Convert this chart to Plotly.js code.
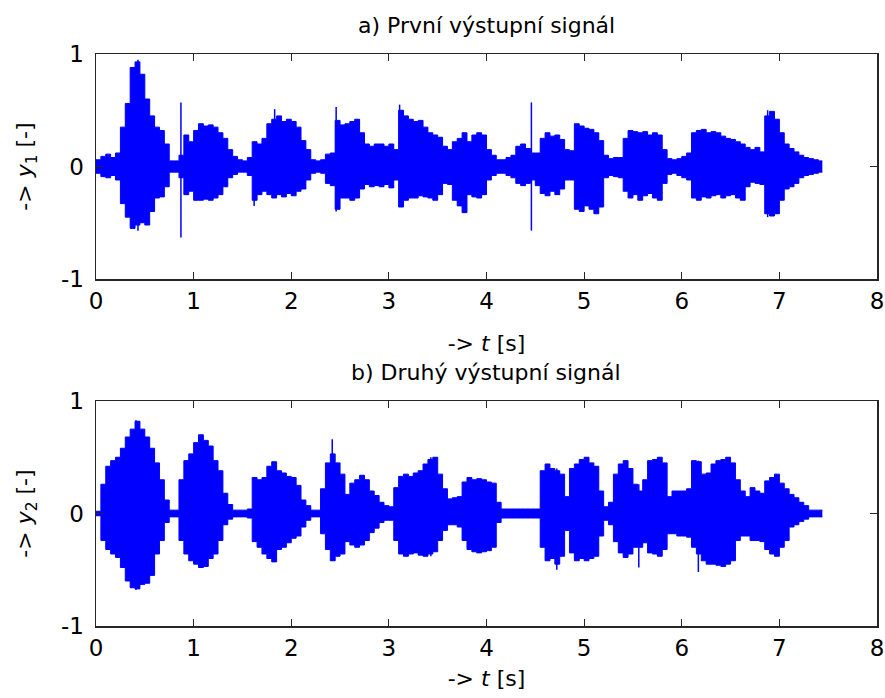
<!DOCTYPE html>
<html>
<head>
<meta charset="utf-8">
<script src="https://cdn.plot.ly/plotly-3.0.1.min.js"></script>
<style>html,body{margin:0;padding:0;background:#fff;}#chart{width:885px;height:698px;}</style>
</head>
<body>
<div id="chart"></div>
<script>
// Envelope of the signals, 0.05 s bins (bin start times)
const tBins = [
0.00,0.05,0.10,0.15,0.20,0.25,0.30,0.35,0.40,0.45,
0.50,0.55,0.60,0.65,0.70,0.75,0.80,0.85,0.90,0.95,
1.00,1.05,1.10,1.15,1.20,1.25,1.30,1.35,1.40,1.45,
1.50,1.55,1.60,1.65,1.70,1.75,1.80,1.85,1.90,1.95,
2.00,2.05,2.10,2.15,2.20,2.25,2.30,2.35,2.40,2.45,
2.50,2.55,2.60,2.65,2.70,2.75,2.80,2.85,2.90,2.95,
3.00,3.05,3.10,3.15,3.20,3.25,3.30,3.35,3.40,3.45,
3.50,3.55,3.60,3.65,3.70,3.75,3.80,3.85,3.90,3.95,
4.00,4.05,4.10,4.15,4.20,4.25,4.30,4.35,4.40,4.45,
4.50,4.55,4.60,4.65,4.70,4.75,4.80,4.85,4.90,4.95,
5.00,5.05,5.10,5.15,5.20,5.25,5.30,5.35,5.40,5.45,
5.50,5.55,5.60,5.65,5.70,5.75,5.80,5.85,5.90,5.95,
6.00,6.05,6.10,6.15,6.20,6.25,6.30,6.35,6.40,6.45,
6.50,6.55,6.60,6.65,6.70,6.75,6.80,6.85,6.90,6.95,
7.00,7.05,7.10,7.15,7.20,7.25,7.30,7.35,7.40,7.44
];

// a) first output signal y1: upper / lower envelope
const y1Upper = [
0.06,0.09,0.11,0.08,0.12,0.35,0.56,0.88,0.93,0.82,
0.60,0.45,0.35,0.32,0.20,0.05,0.05,0.10,0.28,0.22,
0.32,0.38,0.36,0.37,0.35,0.30,0.25,0.15,0.09,0.06,
0.05,0.08,0.22,0.20,0.25,0.38,0.42,0.45,0.40,0.42,
0.40,0.35,0.23,0.15,0.06,0.05,0.06,0.11,0.12,0.41,
0.37,0.38,0.40,0.42,0.30,0.20,0.18,0.20,0.20,0.18,
0.20,0.15,0.50,0.45,0.42,0.40,0.41,0.35,0.30,0.28,
0.26,0.18,0.15,0.22,0.25,0.30,0.22,0.28,0.30,0.28,
0.15,0.10,0.06,0.06,0.08,0.10,0.18,0.20,0.16,0.12,
0.12,0.25,0.30,0.27,0.28,0.24,0.15,0.14,0.38,0.36,
0.34,0.33,0.30,0.23,0.10,0.07,0.08,0.08,0.25,0.32,
0.31,0.30,0.31,0.28,0.30,0.28,0.15,0.07,0.06,0.07,
0.09,0.12,0.30,0.32,0.33,0.30,0.31,0.30,0.27,0.25,
0.24,0.22,0.20,0.17,0.15,0.17,0.13,0.45,0.49,0.42,
0.30,0.20,0.16,0.13,0.10,0.08,0.07,0.06,0.05,0.05
];
const y1Lower = [
-0.06,-0.09,-0.10,-0.08,-0.12,-0.33,-0.45,-0.55,-0.52,-0.50,
-0.52,-0.40,-0.28,-0.27,-0.18,-0.05,-0.05,-0.10,-0.25,-0.22,
-0.30,-0.30,-0.29,-0.30,-0.28,-0.25,-0.18,-0.10,-0.07,-0.05,
-0.05,-0.08,-0.30,-0.25,-0.22,-0.25,-0.28,-0.25,-0.27,-0.24,
-0.26,-0.22,-0.20,-0.12,-0.06,-0.05,-0.06,-0.15,-0.17,-0.38,
-0.28,-0.28,-0.30,-0.28,-0.20,-0.16,-0.18,-0.17,-0.18,-0.16,
-0.19,-0.12,-0.36,-0.30,-0.28,-0.28,-0.26,-0.27,-0.28,-0.30,
-0.25,-0.15,-0.16,-0.30,-0.35,-0.41,-0.25,-0.27,-0.28,-0.25,
-0.12,-0.08,-0.06,-0.06,-0.08,-0.10,-0.15,-0.17,-0.15,-0.12,
-0.17,-0.24,-0.26,-0.22,-0.25,-0.20,-0.12,-0.12,-0.38,-0.40,
-0.35,-0.38,-0.42,-0.36,-0.10,-0.08,-0.09,-0.10,-0.22,-0.28,
-0.25,-0.30,-0.26,-0.24,-0.28,-0.30,-0.15,-0.07,-0.06,-0.08,
-0.10,-0.12,-0.28,-0.30,-0.27,-0.28,-0.26,-0.25,-0.28,-0.26,
-0.25,-0.28,-0.30,-0.18,-0.14,-0.15,-0.16,-0.42,-0.44,-0.42,
-0.30,-0.20,-0.18,-0.15,-0.10,-0.08,-0.07,-0.06,-0.05,-0.05
];
// isolated transients in y1
const y1SpikeT  = [0.43, 0.87, 1.62, 1.83, 2.46, 3.11, 4.46, 6.88];
const y1SpikeHi = [0.95, 0.57, 0.22, 0.51, 0.53, 0.55, 0.57, 0.50];
const y1SpikeLo = [-0.57, -0.63, -0.35, -0.28, -0.40, -0.36, -0.57, -0.45];

// b) second output signal y2: upper / lower envelope
const y2Upper = [
0.02,0.26,0.42,0.47,0.50,0.58,0.68,0.75,0.82,0.75,
0.68,0.58,0.45,0.30,0.12,0.03,0.03,0.30,0.47,0.53,
0.63,0.70,0.65,0.60,0.47,0.38,0.18,0.08,0.03,0.03,
0.03,0.04,0.32,0.30,0.32,0.42,0.46,0.38,0.36,0.33,
0.32,0.25,0.12,0.07,0.03,0.03,0.22,0.45,0.53,0.45,
0.35,0.17,0.27,0.30,0.34,0.30,0.20,0.16,0.10,0.07,
0.06,0.23,0.33,0.35,0.33,0.36,0.38,0.44,0.48,0.50,
0.35,0.22,0.13,0.14,0.15,0.28,0.32,0.30,0.31,0.30,
0.28,0.27,0.10,0.04,0.04,0.04,0.04,0.04,0.04,0.04,
0.04,0.38,0.44,0.40,0.38,0.35,0.15,0.40,0.44,0.48,
0.50,0.45,0.42,0.20,0.06,0.10,0.35,0.44,0.47,0.40,
0.26,0.20,0.30,0.47,0.48,0.50,0.45,0.15,0.20,0.20,
0.20,0.22,0.47,0.46,0.35,0.36,0.44,0.47,0.48,0.50,
0.45,0.30,0.20,0.15,0.23,0.20,0.18,0.29,0.32,0.35,
0.27,0.22,0.17,0.14,0.10,0.07,0.03,0.03,0.03,0.03
];
const y2Lower = [
-0.02,-0.24,-0.32,-0.36,-0.39,-0.48,-0.60,-0.66,-0.67,-0.63,
-0.62,-0.55,-0.36,-0.24,-0.08,-0.03,-0.03,-0.24,-0.36,-0.42,
-0.45,-0.48,-0.47,-0.40,-0.36,-0.24,-0.10,-0.05,-0.03,-0.03,
-0.03,-0.04,-0.25,-0.30,-0.36,-0.40,-0.43,-0.32,-0.30,-0.26,
-0.22,-0.20,-0.12,-0.06,-0.03,-0.03,-0.18,-0.32,-0.42,-0.38,
-0.36,-0.25,-0.28,-0.30,-0.28,-0.24,-0.17,-0.13,-0.08,-0.06,
-0.06,-0.24,-0.36,-0.38,-0.36,-0.35,-0.37,-0.38,-0.36,-0.34,
-0.24,-0.15,-0.10,-0.10,-0.12,-0.24,-0.32,-0.34,-0.35,-0.34,
-0.33,-0.30,-0.08,-0.04,-0.04,-0.04,-0.04,-0.04,-0.04,-0.04,
-0.04,-0.30,-0.42,-0.40,-0.45,-0.38,-0.15,-0.35,-0.42,-0.40,
-0.42,-0.40,-0.38,-0.20,-0.06,-0.10,-0.25,-0.35,-0.39,-0.36,
-0.30,-0.30,-0.26,-0.35,-0.36,-0.38,-0.32,-0.18,-0.18,-0.20,
-0.20,-0.21,-0.30,-0.36,-0.42,-0.45,-0.45,-0.46,-0.47,-0.45,
-0.42,-0.24,-0.20,-0.20,-0.24,-0.24,-0.25,-0.32,-0.36,-0.38,
-0.30,-0.24,-0.12,-0.10,-0.07,-0.05,-0.03,-0.03,-0.03,-0.03
];
const y2SpikeT  = [0.41, 2.42, 3.43, 4.72, 5.56, 6.17];
const y2SpikeHi = [0.83, 0.66, 0.50, 0.40, 0.26, 0.47];
const y2SpikeLo = [-0.68, -0.42, -0.38, -0.50, -0.48, -0.52];

const xTicks = [0,1,2,3,4,5,6,7,8];
const xTickText = ['0','1','2','3','4','5','6','7','8'];
const yTicks = [-1,0,1];
const yTickText = ['-1','0','1'];
const titleA = 'a) První výstupní signál';
const titleB = 'b) Druhý výstupní signál';
const xLabel = '-> <i>t</i> [s]';
const yLabel1 = '-> <i>y</i><sub>1</sub> [-]';
const yLabel2 = '-> <i>y</i><sub>2</sub> [-]';

const BLUE = '#0000ff';
function spikes(ts, hi, lo) {
  const x = [], y = [];
  for (let i = 0; i < ts.length; i++) { x.push(ts[i], ts[i], null); y.push(lo[i], hi[i], null); }
  return {x, y};
}
function signalTraces(up, lo, sp, xa, ya) {
  return [
    {x: tBins, y: up, type: 'scatter', mode: 'lines', line: {color: BLUE, width: 1, shape: 'hv'}, xaxis: xa, yaxis: ya, hoverinfo: 'skip'},
    {x: tBins, y: lo, type: 'scatter', mode: 'lines', line: {color: BLUE, width: 1, shape: 'hv'}, fill: 'tonexty', fillcolor: BLUE, xaxis: xa, yaxis: ya, hoverinfo: 'skip'},
    {x: sp.x, y: sp.y, type: 'scatter', mode: 'lines', line: {color: BLUE, width: 1.5}, xaxis: xa, yaxis: ya, hoverinfo: 'skip', connectgaps: false}
  ];
}
const data = [
  ...signalTraces(y1Upper, y1Lower, spikes(y1SpikeT, y1SpikeHi, y1SpikeLo), 'x', 'y'),
  ...signalTraces(y2Upper, y2Lower, spikes(y2SpikeT, y2SpikeHi, y2SpikeLo), 'x2', 'y2')
];

const AX = '#262626';
function xAxis(dom, anchor, standoff) {
  return {domain: dom, anchor: anchor, range: [0, 8], tickvals: xTicks, ticktext: xTickText, ticks: 'inside', ticklen: 7, tickwidth: 1, tickcolor: AX,
    showline: true, linecolor: AX, linewidth: 1.5, mirror: 'allticks', showgrid: false, zeroline: false,
    tickfont: {size: 23}, ticklabelstandoff: 1, title: {text: xLabel, standoff: standoff, font: {size: 22}}};
}
function yAxis(dom, anchor, label) {
  return {domain: dom, anchor: anchor, range: [-1, 1], tickvals: yTicks, ticktext: yTickText, ticks: 'inside', ticklen: 7, tickwidth: 1, tickcolor: AX,
    showline: true, linecolor: AX, linewidth: 1.5, mirror: 'allticks', showgrid: false, zeroline: false,
    tickfont: {size: 23}, ticklabelstandoff: 6, title: {text: label, standoff: 22, font: {size: 22}}};
}
const layout = {
  width: 885, height: 698, margin: {l: 0, r: 0, t: 0, b: 0},
  paper_bgcolor: '#ffffff', plot_bgcolor: '#ffffff', showlegend: false,
  font: {family: '"DejaVu Sans", "Liberation Sans", Arial, sans-serif', size: 22, color: '#000'},
  xaxis: xAxis([96/885, 877/885], 'y', 22),
  yaxis: yAxis([1 - 279/698, 1 - 54/698], 'x', yLabel1),
  xaxis2: xAxis([96/885, 877/885], 'y2', 10),
  yaxis2: yAxis([1 - 626/698, 1 - 401/698], 'x2', yLabel2),
  annotations: [
    {text: titleA, xref: 'paper', yref: 'paper', x: 486/885, y: 1 - 25/698, xanchor: 'center', yanchor: 'middle', showarrow: false, font: {size: 22}},
    {text: titleB, xref: 'paper', yref: 'paper', x: 486/885, y: 1 - 372/698, xanchor: 'center', yanchor: 'middle', showarrow: false, font: {size: 22}}
  ]
};
Plotly.newPlot('chart', data, layout, {staticPlot: true, displayModeBar: false});
</script>
</body>
</html>
